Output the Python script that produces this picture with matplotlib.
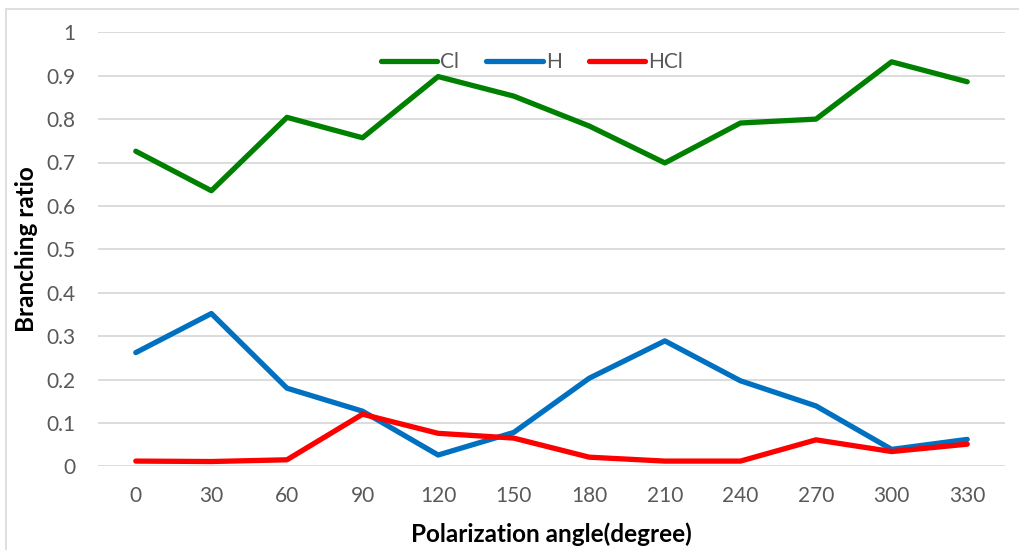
import matplotlib
matplotlib.use("Agg")
import matplotlib.pyplot as plt
from matplotlib.patches import Rectangle

# Data
angles = ["0", "30", "60", "90", "120", "150", "180", "210", "240", "270", "300", "330"]
cl = [0.726, 0.635, 0.804, 0.757, 0.898, 0.853, 0.784, 0.699, 0.791, 0.800, 0.932, 0.886]
h = [0.262, 0.352, 0.180, 0.127, 0.026, 0.078, 0.203, 0.289, 0.197, 0.139, 0.039, 0.062]
hcl = [0.012, 0.011, 0.015, 0.120, 0.076, 0.065, 0.021, 0.012, 0.012, 0.061, 0.034, 0.051]

plt.rcParams["font.family"] = ["Lato", "DejaVu Sans"]

fig = plt.figure(figsize=(10.2, 5.5), dpi=100)
ax = fig.add_axes([98 / 1020, 1 - 466.3 / 550, 907 / 1020, 434 / 550])

# chart border (light gray, cut off at right/bottom like the reference)
fig.patches.append(Rectangle((6 / 1020, -0.1), 1.2, 1 - 9 / 550 + 0.1,
                             transform=fig.transFigure, fill=False,
                             edgecolor="#d9d9d9", lw=1.2))

x = range(len(angles))
ax.plot(x, cl, color="#008000", lw=3.8, solid_capstyle="round", solid_joinstyle="round", label="Cl")
ax.plot(x, h, color="#0070c0", lw=3.8, solid_capstyle="round", solid_joinstyle="round", label="H")
ax.plot(x, hcl, color="#ff0000", lw=3.8, solid_capstyle="round", solid_joinstyle="round", label="HCl")

ax.set_xlim(-0.5, len(angles) - 0.5)
ax.set_ylim(0, 1)
ax.set_xticks(list(x))
ax.set_xticklabels(angles)
ax.set_yticks([i / 10 for i in range(11)])
ax.set_yticklabels(["0", "0.1", "0.2", "0.3", "0.4", "0.5", "0.6", "0.7", "0.8", "0.9", "1"])
ax.tick_params(length=0, labelsize=15, labelcolor="#595959", pad=16)
ax.tick_params(axis="x", pad=14)
ax.grid(axis="y", color="#d9d9d9", lw=1.3)
ax.set_axisbelow(True)
for s in ax.spines.values():
    s.set_visible(False)

ax.set_xlabel("Polarization angle(degree)", fontsize=17.5, fontweight="bold", labelpad=12)
ax.set_ylabel("Branching ratio", fontsize=17.5, fontweight="bold")
ax.yaxis.set_label_coords(-60 / 907, 0.5)

ax.legend(loc="center", bbox_to_anchor=(532 / 1020, 1 - 62 / 550), bbox_transform=fig.transFigure,
          ncol=3, frameon=False, fontsize=15, labelcolor="#595959",
          handlelength=2.7, handletextpad=0.15, columnspacing=1.3)

fig.savefig("out.png", dpi=100)
